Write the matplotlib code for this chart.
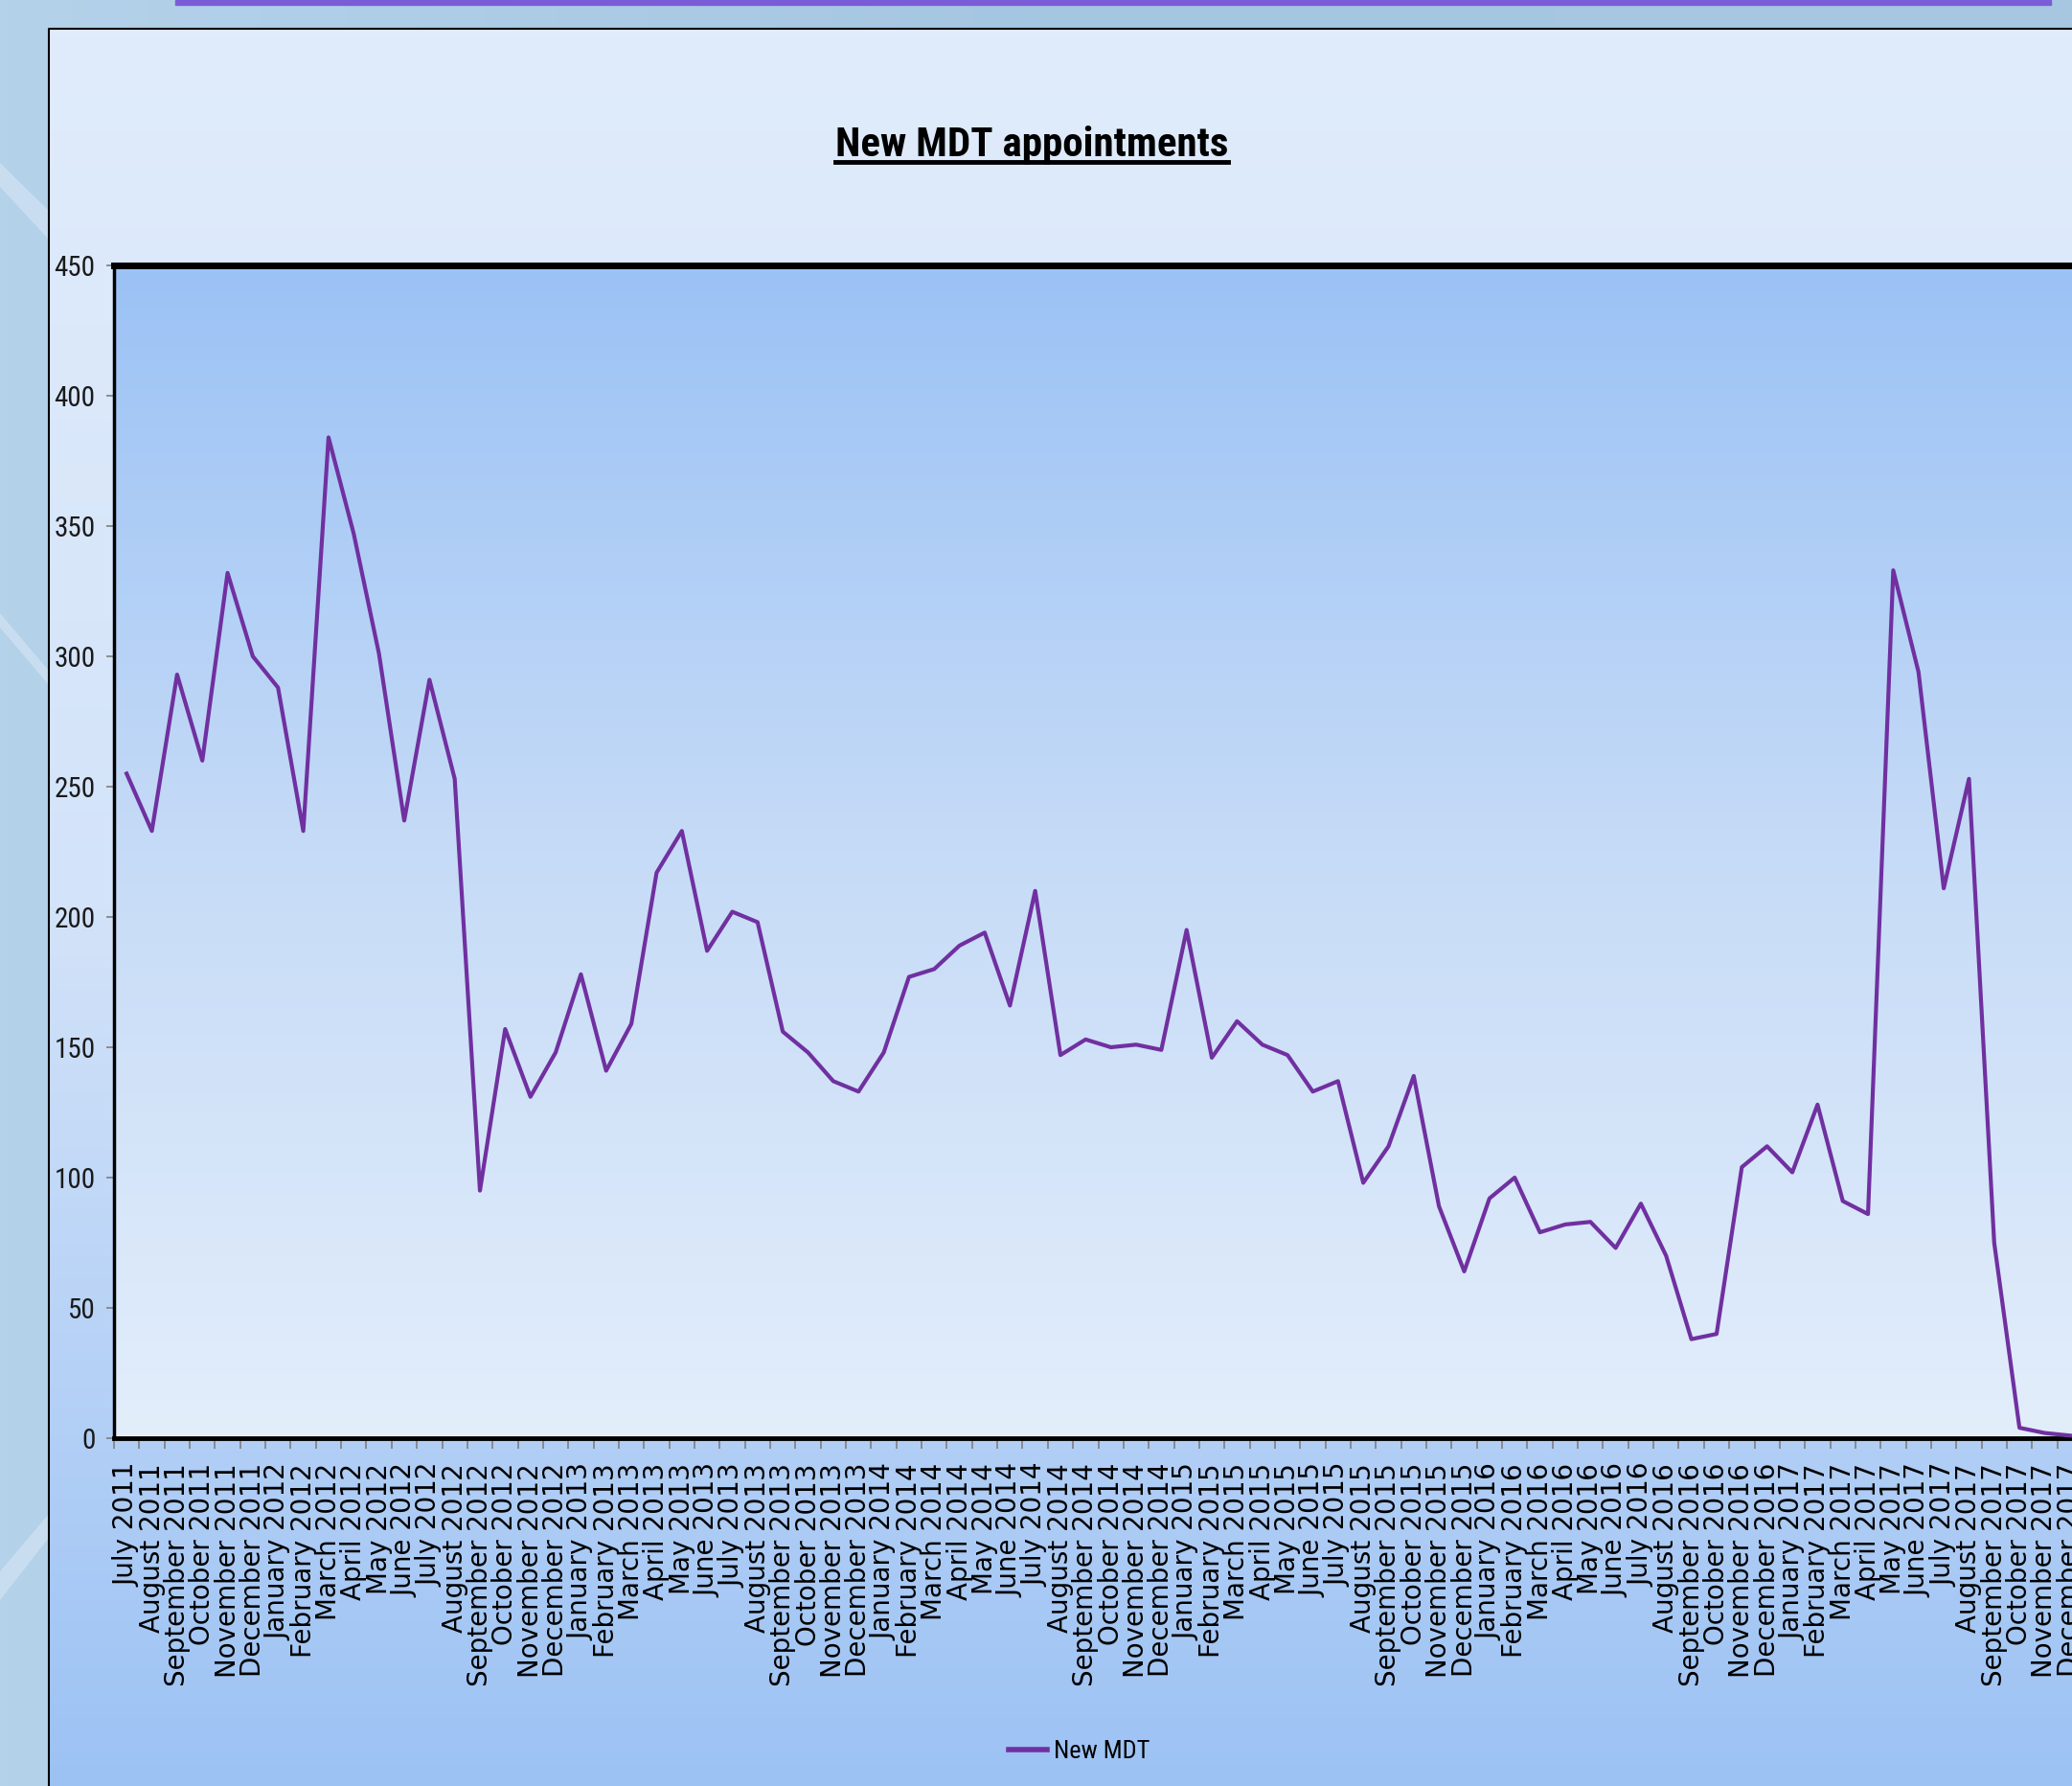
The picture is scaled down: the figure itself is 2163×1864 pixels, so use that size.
import numpy as np
import matplotlib.pyplot as plt
from matplotlib import font_manager
from matplotlib.colors import LinearSegmentedColormap
from matplotlib.patches import Rectangle, Polygon
from matplotlib.lines import Line2D

# months and years on the category axis (July 2011 .. December 2017)
month_names = ['January', 'February', 'March', 'April', 'May', 'June',
               'July', 'August', 'September', 'October', 'November', 'December']
years = [2011, 2012, 2013, 2014, 2015, 2016, 2017]
first_month = 7

# new MDT appointments per month
new_mdt = [255, 233, 293, 260, 332, 300,
           288, 233, 384, 347, 301, 237, 291, 253, 95, 157, 131, 148,
           178, 141, 159, 217, 233, 187, 202, 198, 156, 148, 137, 133,
           148, 177, 180, 189, 194, 166, 210, 147, 153, 150, 151, 149,
           195, 146, 160, 151, 147, 133, 137, 98, 112, 139, 89, 64,
           92, 100, 79, 82, 83, 73, 90, 70, 38, 40, 104, 112,
           102, 128, 91, 86, 333, 294, 211, 253, 75, 4, 2, 1]

y_ticks = [0, 50, 100, 150, 200, 250, 300, 350, 400, 450]

labels = [m + ' ' + str(y) for y in years for m in month_names]
labels = labels[first_month - 1:first_month - 1 + len(new_mdt)]

# look for a narrow font (the original uses a condensed one)
fonts = font_manager.fontManager.ttflist
names = {f.name for f in fonts}
narrow, stretch = 'Liberation Sans', 'normal'
for cand in ['Liberation Sans Narrow', 'Roboto Condensed', 'Open Sans Condensed',
             'Noto Sans Condensed', 'DejaVu Sans Condensed']:
    if cand in names:
        narrow = cand
        break
else:
    cond = [f for f in fonts if str(f.stretch) in ('condensed', 'semi-condensed', 'extra-condensed')
            or 'ondensed' in f.fname or 'Narrow' in f.fname]
    pref = [f for f in cond if 'Roboto' in f.name] + [f for f in cond if 'Noto' in f.name] + \
           [f for f in cond if 'Open' in f.name] + [f for f in cond if 'Liberation' in f.name] + cond
    if pref:
        narrow, stretch = pref[0].name, 'condensed'

W, H = 2163, 1864
fig = plt.figure(figsize=(W / 100, H / 100), dpi=100)
fig.patch.set_facecolor('#a9cae4')

# background: slide strip, chart area gradient, purple bar
bg = fig.add_axes([0, 0, 1, 1], zorder=-10)
slide = LinearSegmentedColormap.from_list('slide', ['#b4d2ea', '#a5c6e2', '#a7c7e1'])
bg.imshow(np.linspace(0, 1, 256).reshape(1, -1), cmap=slide, extent=[0, W, H, 0], aspect='auto')
for pts in [[(0, 170), (51, 220), (51, 250), (0, 195)],
            [(0, 640), (51, 700), (51, 715), (0, 655)],
            [(0, 1640), (51, 1580), (51, 1605), (0, 1670)]]:
    bg.add_patch(Polygon(pts, color='white', alpha=0.28, lw=0))
chart_cm = LinearSegmentedColormap.from_list('chart', ['#e0ecfb', '#d3e3f9', '#9cc2f4'])
bg.imshow(np.linspace(0, 1, 256).reshape(-1, 1), cmap=chart_cm, extent=[51, W, H, 30], aspect='auto')
bg.add_patch(Rectangle((183, 0), 1958, 5, color='#7a5cd6'))
bg.add_line(Line2D([51, 51, W], [H, 30, 30], color='black', lw=1.5))
bg.set_xlim(0, W)
bg.set_ylim(H, 0)
bg.axis('off')

ax_h = 1501 - 277
ax = fig.add_axes([119 / W, 1 - 1501 / H, (2174 - 119) / W, ax_h / H])
plot_cm = LinearSegmentedColormap.from_list('plot', ['#9bc2f5', '#c6dbf7', '#e3eefb'])
ax.imshow(np.linspace(0, 1, 256).reshape(-1, 1), cmap=plot_cm, extent=[0, 1, 0, 1],
          transform=ax.transAxes, aspect='auto', zorder=0)

x = np.arange(len(new_mdt))
ax.plot(x, new_mdt, color='#7030a0', lw=3.0, label='New MDT', zorder=3)

ax.set_xlim(-0.5, len(new_mdt) - 0.5)
ax.set_ylim(0, 450)

ax.spines['right'].set_visible(False)
ax.spines['top'].set_linewidth(5)
ax.spines['left'].set_linewidth(2.5)
ax.spines['bottom'].set_linewidth(3.5)

ax.set_yticks(y_ticks)
ax.tick_params(axis='y', length=6, width=1.2, color='#7f7f7f', pad=8, labelsize=21,
               labelcolor='#1a1a1a')
for t in ax.get_yticklabels():
    t.set_family(narrow)
    t.set_stretch(stretch)

# tick marks between categories, labels centred under each month
ax.set_xticks(np.arange(-0.5, len(new_mdt), 1))
ax.set_xticklabels([])
ax.tick_params(axis='x', which='major', length=8, width=1.2, color='#7f7f7f')
for xi, lab in zip(x, labels):
    ax.text(xi, -26 / ax_h, lab, transform=ax.get_xaxis_transform(), rotation=90,
            ha='center', va='top', fontsize=20, family='DejaVu Sans', color='black',
            clip_on=False)

ttl = fig.text(0.498, 1 - 163 / H, 'New MDT appointments', ha='center', va='baseline',
               fontsize=31, fontweight='bold', family=narrow, fontstretch=stretch)
fig.canvas.draw()
bb = ttl.get_window_extent()
uy = 1 - 169 / H
fig.add_artist(Line2D([bb.x0 / W, bb.x1 / W], [uy, uy], color='black', lw=3.5,
                      transform=fig.transFigure))

handle = Line2D([], [], color='#7030a0', lw=4)
fig.legend([handle], ['New MDT'], loc='center', bbox_to_anchor=(0.521, 1 - 1828 / H),
           frameon=False, prop={'family': narrow, 'size': 19, 'stretch': stretch},
           handlelength=1.5, handletextpad=0.3)

fig.savefig('out.png', dpi=100, facecolor=fig.get_facecolor())
